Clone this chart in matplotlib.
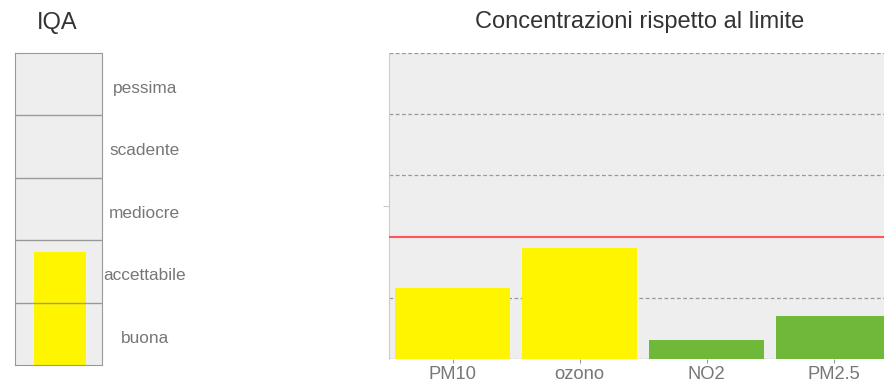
import matplotlib
matplotlib.use('Agg')
import matplotlib.pyplot as plt

plt.rcParams['font.family'] = ['Liberation Sans', 'DejaVu Sans']

# dati
iqa_labels = ['buona', 'accettabile', 'mediocre', 'scadente', 'pessima']
iqa_value = 1.81
iqa_color = '#fff500'

inquinanti = ['PM10', 'ozono', 'NO2', 'PM2.5']
concentrazioni = [1.16, 1.81, 0.31, 0.70]
colori = ['#fff500', '#fff500', '#6fb83a', '#6fb83a']
limite = 2.0
griglia = [0, 1, 3, 4, 5]

W, H = 884, 384
fig = plt.figure(figsize=(W / 100, H / 100), dpi=100)

# --- IQA ---
ax1 = fig.add_axes([15 / W, (H - 365) / H, 87 / W, 312 / H])
ax1.set_facecolor('#eeeeee')
ax1.set_xlim(0, 1)
ax1.set_ylim(0, len(iqa_labels))
ax1.bar([0.517], [iqa_value], width=0.6, color=iqa_color, zorder=2)
for i in range(1, len(iqa_labels)):
    ax1.axhline(i, color='#999999', lw=1, zorder=3)
for s in ax1.spines.values():
    s.set_color('#999999')
ax1.set_xticks([])
ax1.set_yticks([])
for i, lab in enumerate(iqa_labels):
    ax1.text(1.49, i + 0.43, lab, ha='center', va='center', fontsize=12.4,
             color='#777777', transform=ax1.get_yaxis_transform())
fig.text(57.5 / W, 1 - 23 / H, 'IQA', ha='center', va='center',
         fontsize=17, color='#333333')

# --- concentrazioni ---
ax2 = fig.add_axes([389 / W, (H - 359) / H, 508 / W, 306 / H])
ax2.set_facecolor('#eeeeee')
ax2.set_xlim(-0.5, len(inquinanti) - 0.5)
ax2.set_ylim(0, 5)
for g in griglia:
    ax2.axhline(g, color='#999999', lw=0.9, ls=(0, (3, 2)), zorder=1)
ax2.bar(range(len(inquinanti)), concentrazioni, width=0.9, color=colori, zorder=2)
ax2.axhline(limite, color='#ff5555', lw=1.5, zorder=3)
for k in ['top', 'right', 'bottom']:
    ax2.spines[k].set_visible(False)
ax2.spines['left'].set_color('#cccccc')
ax2.set_yticks([2.5])
ax2.set_yticklabels([''])
ax2.tick_params(axis='y', length=4, color='#cccccc')
ax2.set_xticks(range(len(inquinanti)))
ax2.set_xticklabels(inquinanti, fontsize=13.2, color='#777777')
ax2.tick_params(axis='x', length=3, color='#999999', pad=2)
fig.text(640 / W, 1 - 22 / H, 'Concentrazioni rispetto al limite',
         ha='center', va='center', fontsize=17, color='#333333')

fig.savefig('out.png', dpi=100)
